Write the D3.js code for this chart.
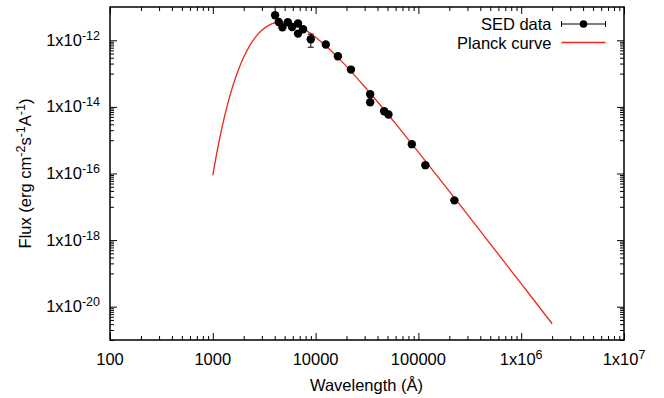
<!DOCTYPE html>
<html><head><meta charset="utf-8">
<script src="https://cdn.jsdelivr.net/npm/d3@7"></script>
<style>
html,body{margin:0;padding:0;background:#fff;}
svg text{font-family:"Liberation Sans",Arial,Helvetica,sans-serif;fill:#000;}
</style></head>
<body><svg id="chart" width="664" height="398"></svg>
<script>
// ---- data ----
const wavelength = [4036, 4375, 4753, 5370, 5902, 6745, 6745, 7550, 8980, 12560, 16480, 22070, 33960, 33960, 46450, 51170, 86300, 116900, 223900];
const flux = [5.64e-12, 3.55e-12, 2.46e-12, 3.47e-12, 2.51e-12, 3.18e-12, 1.59e-12, 2.14e-12, 1.07e-12, 7.45e-13, 3.32e-13, 1.32e-13, 2.41e-14, 1.38e-14, 7.43e-15, 5.91e-15, 7.60e-16, 1.78e-16, 1.56e-17];
const fluxErr = [1.0e-13, 7e-14, 5e-14, 7e-14, 5e-14, 6e-14, 3e-14, 4e-14, 4.5e-13, 1.5e-14, 7e-15, 3e-15, 5e-16, 3e-16, 1.5e-16, 1.2e-16, 1.5e-17, 4e-18, 4e-19];
const planckWavelength = [1000,1100,1200,1300,1400,1500,1700,2000,2300,2600,3000,3500,4000,4700,5500,6500,8000,10000,13000,17000,22000,30000,40000,60000,100000,200000,500000,1000000,2000000];
const planckFlux = [8.77e-17,4.53e-16,1.71e-15,5.11e-15,1.27e-14,2.73e-14,9.06e-14,3.14e-13,7.13e-13,1.245e-12,2.01e-12,2.82e-12,3.33e-12,3.56e-12,3.37e-12,2.84e-12,2.02e-12,1.24e-12,6.21e-13,2.77e-13,1.19e-13,4.04e-14,1.43e-14,3.13e-15,4.40e-16,2.92e-17,7.74e-19,4.90e-20,3.08e-21];
const xMajorTicks = [100,1000,10000,100000,1e6,1e7];
const xTickLabels = [["100",""],["1000",""],["10000",""],["100000",""],["1x10","6"],["1x10","7"]];
const yMajorTicks = [1e-20,1e-18,1e-16,1e-14,1e-12];
const yTickLabels = [["1x10","-20"],["1x10","-18"],["1x10","-16"],["1x10","-14"],["1x10","-12"]];
const seriesNames = ["SED data","Planck curve"];

// ---- layout ----
const L=110, R=624, T=7, B=340;
const svg = d3.select("#chart");
const x = d3.scaleLog().domain([100,1e7]).range([L,R]);
const y = d3.scaleLog().domain([1e-21,1e-11]).range([B,T]);

// minor ticks
const xMinor=[];
for(let d=100; d<1e7; d*=10) for(let k=2;k<=9;k++) xMinor.push(d*k);
const yMinor=[];
for(let e=-21; e<=-13; e+=2) for(let k=1;k<=9;k++) yMinor.push(k*Math.pow(10,e));

const fs=16.5, sfs=12.5;

function axisG(axis, tr){
  const g = svg.append("g").attr("transform",tr).call(axis);
  g.select(".domain").remove();
  g.selectAll("line").attr("stroke","#000").attr("stroke-width",1);
  return g;
}
axisG(d3.axisBottom(x).tickValues(xMajorTicks).tickSize(-7).tickFormat(""), `translate(0,${B})`);
axisG(d3.axisBottom(x).tickValues(xMinor).tickSize(-4).tickFormat(""), `translate(0,${B})`);
axisG(d3.axisTop(x).tickValues(xMajorTicks).tickSize(-7).tickFormat(""), `translate(0,${T})`);
axisG(d3.axisTop(x).tickValues(xMinor).tickSize(-4).tickFormat(""), `translate(0,${T})`);
axisG(d3.axisLeft(y).tickValues(yMajorTicks).tickSize(-7).tickFormat(""), `translate(${L},0)`);
axisG(d3.axisLeft(y).tickValues(yMinor).tickSize(-4).tickFormat(""), `translate(${L},0)`);
axisG(d3.axisRight(y).tickValues(yMajorTicks).tickSize(-7).tickFormat(""), `translate(${R},0)`);
axisG(d3.axisRight(y).tickValues(yMinor).tickSize(-4).tickFormat(""), `translate(${R},0)`);

// frame
svg.append("rect").attr("x",L).attr("y",T).attr("width",R-L).attr("height",B-T)
  .attr("fill","none").attr("stroke","#000").attr("stroke-width",1.5);

// tick labels
xMajorTicks.forEach((v,i)=>{
  const t = svg.append("text").attr("x",x(v)).attr("y",365).attr("text-anchor","middle").attr("font-size",fs);
  t.append("tspan").text(xTickLabels[i][0]);
  if(xTickLabels[i][1]) t.append("tspan").attr("font-size",sfs).attr("dy",-6).text(xTickLabels[i][1]);
});
yMajorTicks.forEach((v,i)=>{
  const t = svg.append("text").attr("x",100).attr("y",y(v)+5.5).attr("text-anchor","end").attr("font-size",fs);
  t.append("tspan").text(yTickLabels[i][0]);
  t.append("tspan").attr("font-size",sfs).attr("dy",-6).text(yTickLabels[i][1]);
});

// axis titles
svg.append("text").attr("x",(L+R)/2-0.5).attr("y",391).attr("text-anchor","middle").attr("font-size",fs).text("Wavelength (Å)");
const yt = svg.append("text").attr("transform",`translate(31,${(T+B)/2}) rotate(-90)`).attr("text-anchor","middle").attr("font-size",fs);
yt.append("tspan").text("Flux (erg cm");
yt.append("tspan").attr("font-size",sfs).attr("dy",-6).text("-2");
yt.append("tspan").attr("dy",6).text("s");
yt.append("tspan").attr("font-size",sfs).attr("dy",-6).text("-1");
yt.append("tspan").attr("dy",6).text("A");
yt.append("tspan").attr("font-size",sfs).attr("dy",-6).text("-1");
yt.append("tspan").attr("dy",6).text(")");

// Planck curve
const red="#ee2618";
const line = d3.line().x(d=>x(d[0])).y(d=>y(d[1])).curve(d3.curveCatmullRom.alpha(0.5));
svg.append("path").datum(planckWavelength.map((w,i)=>[w,planckFlux[i]]))
  .attr("d",line).attr("fill","none").attr("stroke",red).attr("stroke-width",1.3);

// SED data with y error bars
const pts = wavelength.map((w,i)=>({w, f:flux[i], e:fluxErr[i]}));
const eg = svg.append("g").attr("stroke","#000").attr("stroke-width",1);
pts.forEach(p=>{
  const y0=y(p.f+p.e), y1=y(Math.max(p.f-p.e,p.f*0.05)), cx=x(p.w);
  eg.append("line").attr("x1",cx).attr("x2",cx).attr("y1",y0).attr("y2",y1);
  eg.append("line").attr("x1",cx-3).attr("x2",cx+3).attr("y1",y0).attr("y2",y0);
  eg.append("line").attr("x1",cx-3).attr("x2",cx+3).attr("y1",y1).attr("y2",y1);
});
svg.append("g").selectAll("circle").data(pts).join("circle")
  .attr("cx",d=>x(d.w)).attr("cy",d=>y(d.f)).attr("r",4.2).attr("fill","#000");

// legend
svg.append("text").attr("x",551.5).attr("y",29.5).attr("text-anchor","end").attr("font-size",fs).text(seriesNames[0]);
svg.append("text").attr("x",551.5).attr("y",48.5).attr("text-anchor","end").attr("font-size",fs).text(seriesNames[1]);
const lg = svg.append("g").attr("stroke","#000").attr("stroke-width",1);
lg.append("line").attr("x1",561.5).attr("x2",605.5).attr("y1",24).attr("y2",24);
lg.append("line").attr("x1",561.5).attr("x2",561.5).attr("y1",21).attr("y2",27);
lg.append("line").attr("x1",605.5).attr("x2",605.5).attr("y1",21).attr("y2",27);
svg.append("circle").attr("cx",583.5).attr("cy",24).attr("r",3.8).attr("fill","#000");
svg.append("line").attr("x1",561.5).attr("x2",605.5).attr("y1",42.5).attr("y2",42.5).attr("stroke",red).attr("stroke-width",1.3);
</script></body></html>
